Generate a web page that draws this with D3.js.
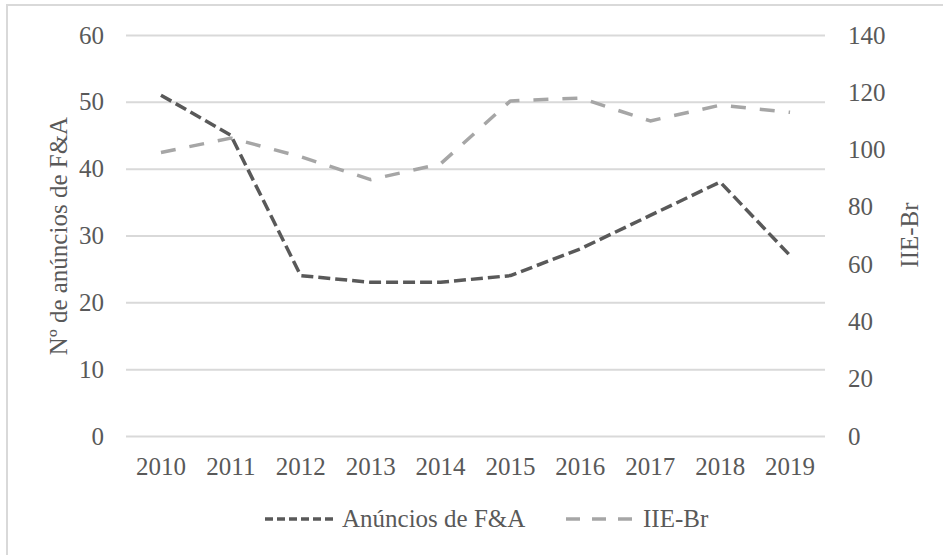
<!DOCTYPE html>
<html>
<head>
<meta charset="utf-8">
<script src="https://cdn.jsdelivr.net/npm/d3@7"></script>
</head>
<body style="margin:0;background:#fff">
<script>
var years = ["2010","2011","2012","2013","2014","2015","2016","2017","2018","2019"];
var anuncios = [51, 45, 24, 23, 23, 24, 28, 33, 38, 27];
var iieBr = [99, 104, 97.5, 89.5, 95, 117, 118, 110, 115.5, 113];
var leftTicks = [0,10,20,30,40,50,60];
var rightTicks = [0,20,40,60,80,100,120,140];

var width = 943;
var height = 555;
var margin = {left:126, right:118, top:35, bottom:119};
var plotW = width - margin.left - margin.right;
var plotH = height - margin.top - margin.bottom;
var serif = "'Liberation Serif', monospace";
var textColor = "#595959";
var fontSize = "25px";

var svg = d3.select("body").append("svg").attr("width",width).attr("height",height);

// outer frame
svg.append("rect")
	.attr("x",7).attr("y",5)
	.attr("width",950).attr("height",570)
	.attr("fill","none")
	.attr("stroke","#d9d9d9")
	.attr("stroke-width",2);

var chartGroup = svg.append("g").attr("transform","translate("+margin.left+","+margin.top+")");

var x = d3.scaleBand().domain(years).range([0,plotW]);
var yLeft = d3.scaleLinear().domain([0,60]).range([plotH,0]);
var yRight = d3.scaleLinear().domain([0,140]).range([plotH,0]);

//gridlines + left labels
var leftAxis = chartGroup.append("g")
	.call(d3.axisLeft(yLeft).tickValues(leftTicks).tickSize(-plotW).tickPadding(22).tickFormat(d3.format("d")));
leftAxis.select(".domain").remove();
leftAxis.selectAll("line").attr("stroke","#d9d9d9").attr("stroke-width",2);

var rightAxis = chartGroup.append("g")
	.attr("transform","translate("+plotW+",0)")
	.call(d3.axisRight(yRight).tickValues(rightTicks).tickSize(0).tickPadding(23).tickFormat(d3.format("d")));
rightAxis.select(".domain").remove();

var bottomAxis = chartGroup.append("g")
	.attr("transform","translate(0,"+plotH+")")
	.call(d3.axisBottom(x).tickSize(0).tickPadding(21));
bottomAxis.select(".domain").remove();

chartGroup.selectAll("g.tick text")
	.attr("fill",textColor)
	.style("font-family",serif)
	.style("font-size",fontSize);

// axis titles
svg.append("text")
	.attr("transform","translate(67,236) rotate(-90)")
	.attr("text-anchor","middle")
	.attr("fill",textColor)
	.style("font-family",serif)
	.style("font-size",fontSize)
	.text("Nº de anúncios de F&A");

svg.append("text")
	.attr("transform","translate(918,235) rotate(-90)")
	.attr("text-anchor","middle")
	.attr("fill",textColor)
	.style("font-family",serif)
	.style("font-size",fontSize)
	.text("IIE-Br");

var cx = function(d,i){ return x(years[i]) + x.bandwidth()/2; };

var lineLeft = d3.line().x(cx).y(function(d){ return yLeft(d); });
var lineRight = d3.line().x(cx).y(function(d){ return yRight(d); });

chartGroup.append("path")
	.datum(iieBr)
	.attr("d",lineRight)
	.attr("fill","none")
	.attr("stroke","#a6a6a6")
	.attr("stroke-width",3.5)
	.attr("stroke-linejoin","round")
	.attr("stroke-dasharray","15,14");

chartGroup.append("path")
	.datum(anuncios)
	.attr("d",lineLeft)
	.attr("fill","none")
	.attr("stroke","#595959")
	.attr("stroke-width",3.5)
	.attr("stroke-linejoin","round")
	.attr("stroke-dasharray","12,5");

// legend
var legend = svg.append("g");
var legendItems = [
	{name:"Anúncios de F&A", color:"#595959", dash:"8,4", x:265},
	{name:"IIE-Br", color:"#a6a6a6", dash:"14,12", x:566}
];
var li = legend.selectAll("g").data(legendItems).enter().append("g")
	.attr("transform",function(d){ return "translate("+d.x+",519)"; });
li.append("line")
	.attr("x1",0).attr("x2",72).attr("y1",0).attr("y2",0)
	.attr("stroke",function(d){ return d.color; })
	.attr("stroke-width",3.5)
	.attr("stroke-dasharray",function(d){ return d.dash; });
li.append("text")
	.attr("x",77).attr("y",8)
	.attr("fill",textColor)
	.style("font-family",serif)
	.style("font-size",fontSize)
	.text(function(d){ return d.name; });
</script>
</body>
</html>
